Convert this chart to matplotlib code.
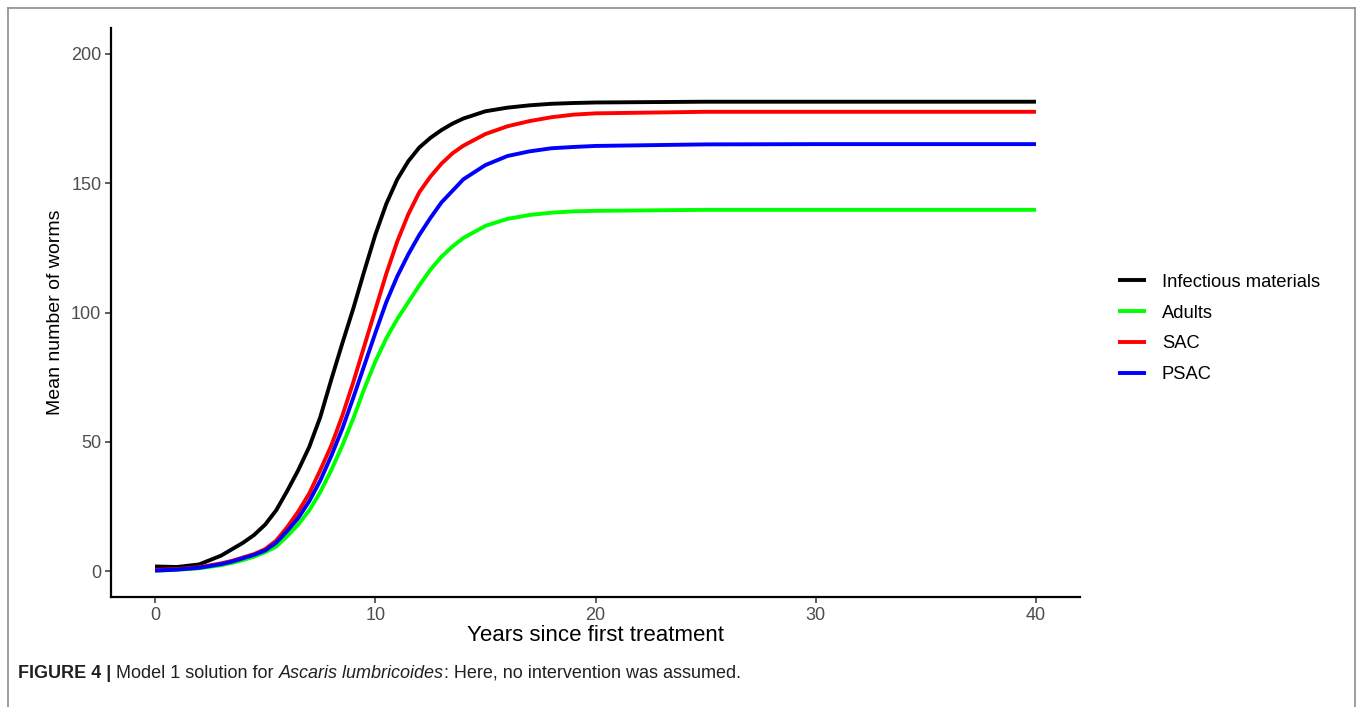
import matplotlib
matplotlib.use("Agg")
import matplotlib.pyplot as plt
from matplotlib.lines import Line2D

plt.rcParams['font.family'] = ['Liberation Sans', 'DejaVu Sans']

# values (years since first treatment -> mean worms)
years = [0, 1, 2, 3, 3.5, 4, 4.5, 5, 5.5, 6, 6.5, 7, 7.5, 8, 8.5, 9, 9.5,
         10, 10.5, 11, 11.5, 12, 12.5, 13, 13.5, 14, 15, 16, 17, 18, 19, 20,
         25, 30, 35, 40]

infectious = [1.8, 1.6, 2.6, 6.0, 8.5, 11.0, 14.0, 18.0, 23.5, 31.0, 39.0, 48.0,
              59.5, 74.0, 88.0, 101.5, 116.0, 130.0, 142.0, 151.5, 158.5, 163.8,
              167.5, 170.5, 173.0, 175.0, 177.8, 179.2, 180.1, 180.7, 181.0,
              181.2, 181.5, 181.5, 181.5, 181.5]
adults = [0.2, 0.5, 1.1, 2.3, 3.2, 4.3, 5.6, 7.3, 9.5, 13.5, 18.0, 23.5, 30.5,
          39.0, 48.5, 59.0, 70.5, 81.0, 90.0, 97.5, 104.0, 110.5, 116.5, 121.5,
          125.5, 128.8, 133.5, 136.2, 137.7, 138.6, 139.1, 139.3, 139.7, 139.7,
          139.7, 139.7]
sac = [0.5, 0.8, 1.5, 3.0, 4.0, 5.3, 6.6, 8.5, 11.8, 17.0, 23.0, 30.0, 39.0,
       48.5, 60.0, 73.0, 87.0, 101.0, 115.0, 127.5, 138.0, 146.5, 152.5, 157.5,
       161.5, 164.5, 169.0, 172.0, 174.0, 175.5, 176.5, 177.0, 177.6, 177.6,
       177.6, 177.6]
psac = [0.2, 0.6, 1.3, 2.7, 3.7, 5.0, 6.3, 8.0, 11.0, 15.5, 20.5, 27.0, 35.0,
        44.5, 55.0, 67.0, 79.5, 92.0, 104.0, 114.0, 122.5, 130.0, 136.5, 142.5,
        147.0, 151.5, 157.0, 160.5, 162.3, 163.5, 164.0, 164.4, 165.0, 165.1,
        165.1, 165.1]

labels = ["Infectious materials", "Adults", "SAC", "PSAC"]
colors = ["#000000", "#00FF00", "#FF0000", "#0000FF"]
series = [infectious, adults, sac, psac]

fig = plt.figure(figsize=(13.62, 7.07), dpi=100)

# outer frame of the figure panel
for xs, ys in [([8, 8], [0, 699]), ([8, 1355], [699, 699]), ([1355, 1355], [699, 0])]:
    fig.add_artist(Line2D([x / 1362 for x in xs], [y / 707 for y in ys],
                          color="#8c8c8c", lw=1.2, transform=fig.transFigure))

ax = fig.add_axes([111 / 1362, 1 - 597 / 707, (1080 - 111) / 1362, (597 - 28) / 707])
for y, c, lab in zip(series, colors, labels):
    ax.plot(years, y, color=c, lw=2.8, label=lab, solid_capstyle="butt")

ax.set_xlim(-2, 42)
ax.set_ylim(-10, 210)
ax.set_xticks([0, 10, 20, 30, 40])
ax.set_yticks([0, 50, 100, 150, 200])
for s in ["top", "right"]:
    ax.spines[s].set_visible(False)
for s in ["left", "bottom"]:
    ax.spines[s].set_linewidth(1.6)
ax.tick_params(direction="out", length=4, width=1.1, color="#333333",
               labelcolor="#4D4D4D", labelsize=13, pad=3)
ax.set_xlabel("Years since first treatment", fontsize=16, labelpad=1)
ax.set_ylabel("Mean number of worms", fontsize=14, labelpad=5)

ax.legend(loc="center left", bbox_to_anchor=(1.022, 0.472), frameon=False,
          fontsize=13.2, handlelength=1.55, handletextpad=0.85, labelspacing=0.75)

# caption
fig.canvas.draw()
r = fig.canvas.get_renderer()
parts = [("FIGURE 4 | ", "bold", "normal"), ("Model 1 solution for ", "normal", "normal"),
         ("Ascaris lumbricoides", "normal", "italic"),
         (": Here, no intervention was assumed.", "normal", "normal")]
x = 18 / 1362
for txt, w, st in parts:
    t = fig.text(x, 1 - 678 / 707, txt, fontsize=13, fontweight=w, fontstyle=st,
                 color="#231f20", va="baseline", ha="left")
    bb = t.get_window_extent(renderer=r)
    x += bb.width / 1362

fig.savefig("out.png", dpi=100)
